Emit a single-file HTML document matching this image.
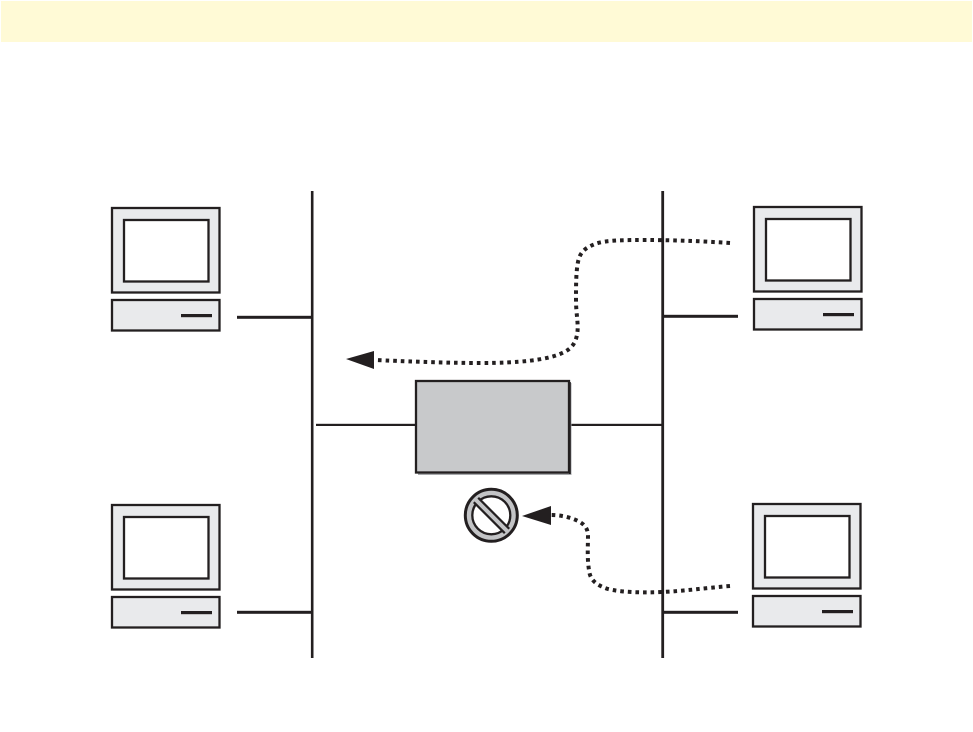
<!DOCTYPE html>
<html>
<head>
<meta charset="utf-8">
<style>
html,body{margin:0;padding:0;background:#fff;width:973px;height:732px;overflow:hidden}
svg{display:block}
</style>
</head>
<body>
<svg width="973" height="732" viewBox="0 0 973 732" xmlns="http://www.w3.org/2000/svg">
<defs>
<g id="pc">
<rect x="1" y="1" width="107.500" height="84.500" fill="#e9eaec" stroke="#231f20" stroke-width="2.300"/>
<rect x="13" y="13" width="84.500" height="61.500" fill="#fff" stroke="#231f20" stroke-width="2.300"/>
<rect x="1" y="93" width="107.500" height="30.500" fill="#e9eaec" stroke="#231f20" stroke-width="2.300"/>
<rect x="70" y="107" width="31" height="3.200" fill="#231f20"/>
</g>
</defs>
<rect x="1" y="1" width="971" height="41" fill="#fffad6"/>

<rect x="310.900" y="191" width="2.600" height="467" fill="#231f20"/>
<rect x="661.300" y="191" width="2.800" height="467" fill="#231f20"/>

<use href="#pc" x="111" y="207"/>
<use href="#pc" x="753" y="206"/>
<use href="#pc" x="111" y="504"/>
<use href="#pc" x="752" y="503"/>

<g fill="#231f20">
<rect x="237" y="315.800" width="75" height="3"/>
<rect x="663" y="314.800" width="75" height="3"/>
<rect x="237" y="610.800" width="75" height="3"/>
<rect x="663" y="610.800" width="75" height="3"/>
<rect x="316" y="423.800" width="100" height="2.200"/>
<rect x="570" y="423.800" width="92" height="2.200"/>
</g>

<rect x="418" y="383" width="153.500" height="92" fill="#a7a9ac"/>
<rect x="416" y="381" width="153" height="91.500" fill="#c8c9cb" stroke="#231f20" stroke-width="2.300"/>
<rect x="569" y="382" width="1.800" height="92" fill="#231f20"/>

<circle cx="491.300" cy="515.300" r="26" fill="#c3c4c6" stroke="#231f20" stroke-width="3"/>
<circle cx="491.300" cy="515.300" r="19" fill="#fff" stroke="#231f20" stroke-width="2.300"/>
<line x1="476" y1="500" x2="507" y2="531" stroke="#231f20" stroke-width="8.500"/>
<line x1="475" y1="499" x2="508" y2="532" stroke="#c3c4c6" stroke-width="4"/>

<path d="M730 243 C700 241 670 240 647 240 C625 240 605 240 595 244 C585 248 580 252 578 262 C576 272 576 285 576 300 C576 315 579 325 577 335 C575 345 570 350 560 354 C545 360 520 363 480 363 C440 363 400 361 375 360" fill="none" stroke="#231f20" stroke-width="4" stroke-dasharray="3.600 4"/>
<polygon points="346,359 374,351 374,369" fill="#231f20"/>

<path d="M730 586 C705 588 685 591 662 592 C640 593 620 592 608 589 C596 585 590 580 589 570 C587 558 588 545 588 536 C588 528 584 524 578 521 C570 517 560 515 551 515" fill="none" stroke="#231f20" stroke-width="4" stroke-dasharray="3.600 4"/>
<polygon points="522,516 551,506 551,525" fill="#231f20"/>
</svg>
</body>
</html>
